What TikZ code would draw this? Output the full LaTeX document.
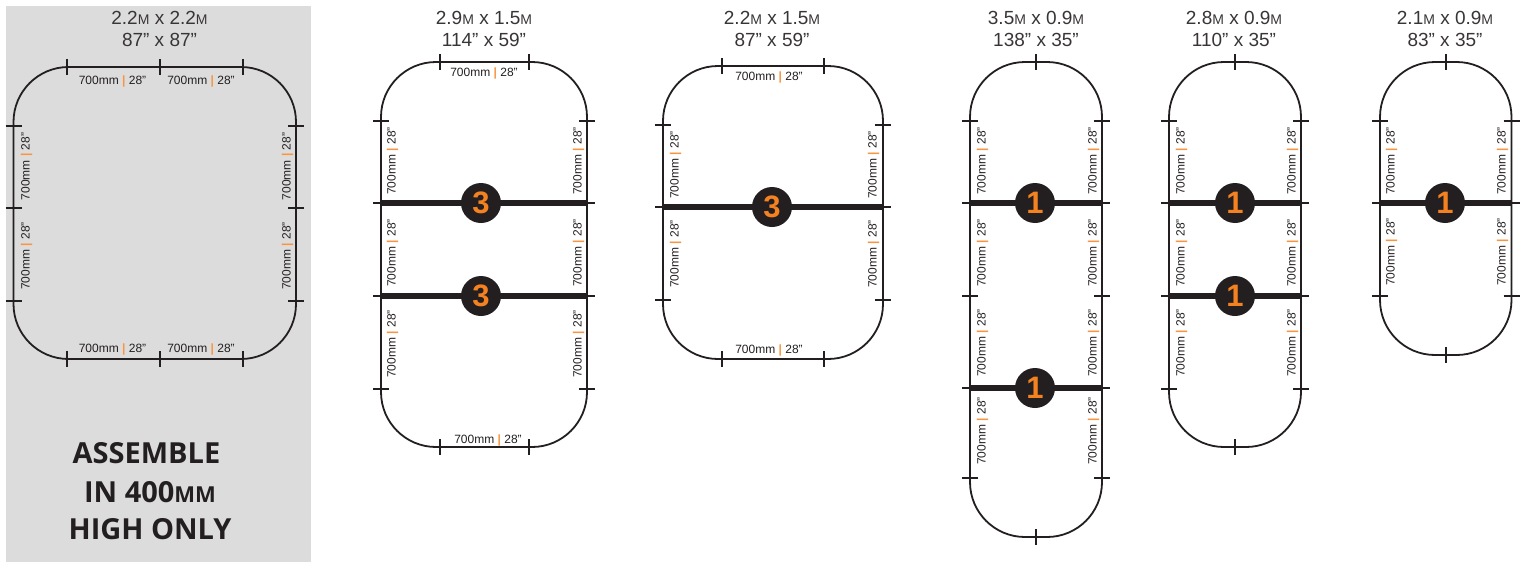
\documentclass[tikz,border=0pt]{standalone}
\usepackage{fontspec}
\setmainfont{Liberation Sans}
\newfontfamily\headfont{Open Sans}
\definecolor{panelgray}{HTML}{DCDCDC}
\definecolor{inkblack}{HTML}{231F20}
\definecolor{markorange}{HTML}{F58220}
\tikzset{
  track/.style={line width=1.8pt,inkblack,rounded corners=55},
  tick/.style={line width=1.6pt,inkblack},
  joinbar/.style={line width=5.4pt,inkblack},
  dimtext/.style={font=\fontsize{12}{14}\selectfont,text=inkblack,inner sep=0pt},
  sizetext/.style={font=\fontsize{19}{21}\selectfont,text=inkblack!90,inner sep=0pt},
  counter/.style={circle,fill=inkblack,minimum size=40pt,inner sep=0pt,text=markorange,font=\fontsize{31}{31}\selectfont\bfseries},
  notetext/.style={font=\headfont\fontsize{29}{30}\selectfont\bfseries,text=inkblack,inner sep=0pt},
}
\begin{document}
\begin{tikzpicture}[x=1pt,y=-1pt]
\def\dimlabel{700mm \textcolor{markorange!85}{\bfseries |} 28"}
\def\hdim#1#2#3{ % #1 Name, #2 x, #3 y
\node[dimtext] (#1) at (#2,#3+1.5) {\dimlabel};
}
\def\vdim#1#2#3{ % #1 Name, #2 x, #3 y
\node[dimtext,rotate=90] (#1) at (#2+1.5,#3) {\dimlabel};
}
\def\htick#1#2{ % #1 x, #2 y
\draw[tick] (#1-8,#2) -- (#1+8,#2);
}
\def\vtick#1#2{ % #1 x, #2 y
\draw[tick] (#1,#2-8) -- (#1,#2+8);
}
\def\sizes#1#2#3#4{ % #1 Name, #2 x, #3 metric, #4 imperial
\node[sizetext] (#1m) at (#2,18) {#3};
\node[sizetext] (#1i) at (#2,40) {#4};
}
\def\mm{{\fontsize{14}{16}\selectfont M}}

\useasboundingbox (0,0) rectangle (1528,562);
\fill[panelgray] (6,6) rectangle (311,562);

%sizes on top of the layouts

\sizes{a}{159.5}{2.2\mm{} x 2.2\mm}{87” x 87”}
\sizes{b}{484}{2.9\mm{} x 1.5\mm}{114” x 59”}
\sizes{c}{772}{2.2\mm{} x 1.5\mm}{87” x 59”}
\sizes{d}{1036}{3.5\mm{} x 0.9\mm}{138” x 35”}
\sizes{e}{1234}{2.8\mm{} x 0.9\mm}{110” x 35”}
\sizes{f}{1445}{2.1\mm{} x 0.9\mm}{83” x 35”}

%outlines of the layouts

\draw[track] (13.5,67) rectangle (296,359);
\draw[track] (381,62) rectangle (587,447);
\draw[track] (663,66) rectangle (883,359);
\draw[track] (970,62) rectangle (1102,537);
\draw[track] (1169,62) rectangle (1301,447);
\draw[track] (1380,62) rectangle (1511.5,355);

%joining bars

\draw[joinbar] (381,203) -- (587,203);
\draw[joinbar] (381,296) -- (587,296);
\draw[joinbar] (663,207) -- (883,207);
\draw[joinbar] (970,203) -- (1102,203);
\draw[joinbar] (970,388) -- (1102,388);
\draw[joinbar] (1169,203) -- (1301,203);
\draw[joinbar] (1169,296) -- (1301,296);
\draw[joinbar] (1380,203) -- (1511.5,203);

%first layout

\vtick{67}{67} \vtick{160}{67} \vtick{243}{67}
\vtick{67}{359} \vtick{160}{359} \vtick{243}{359}
\htick{13.5}{126} \htick{13.5}{208} \htick{13.5}{301}
\htick{296}{126} \htick{296}{208} \htick{296}{301}
\hdim{a1}{112.5}{80} \hdim{a2}{201}{80}
\hdim{a3}{112.5}{347.5} \hdim{a4}{201}{347.5}
\vdim{a5}{25}{166.5} \vdim{a6}{25}{256}
\vdim{a7}{286}{166.5} \vdim{a8}{286}{256}

%second layout

\vtick{440}{62} \vtick{529}{62}
\vtick{440}{447} \vtick{529}{447}
\htick{381}{121} \htick{381}{203} \htick{381}{296} \htick{381}{389}
\htick{587}{121} \htick{587}{203} \htick{587}{296} \htick{587}{389}
\hdim{b1}{484}{72} \hdim{b2}{488}{439}
\vdim{b3}{391}{161} \vdim{b4}{391}{253} \vdim{b5}{391}{344}
\vdim{b6}{577}{161} \vdim{b7}{577}{253} \vdim{b8}{577}{344}
\node[counter] (b9) at (481,203) {3};
\node[counter] (b10) at (481,296) {3};

%third layout

\vtick{722}{66} \vtick{824}{66}
\vtick{722}{359} \vtick{824}{359}
\htick{663}{125} \htick{663}{207} \htick{663}{300}
\htick{883}{125} \htick{883}{207} \htick{883}{300}
\hdim{c1}{769}{76} \hdim{c2}{769}{349}
\vdim{c3}{674}{165} \vdim{c4}{674}{254}
\vdim{c5}{872}{165} \vdim{c6}{872}{254}
\node[counter] (c7) at (772,207) {3};

%fourth layout

\vtick{1036}{62} \vtick{1036}{537}
\htick{970}{121} \htick{970}{203} \htick{970}{296} \htick{970}{388} \htick{970}{478}
\htick{1102}{121} \htick{1102}{203} \htick{1102}{296} \htick{1102}{388} \htick{1102}{478}
\vdim{d1}{981}{161} \vdim{d2}{981}{253} \vdim{d3}{981}{343} \vdim{d4}{981}{431}
\vdim{d5}{1092}{161} \vdim{d6}{1092}{253} \vdim{d7}{1092}{343} \vdim{d8}{1092}{431}
\node[counter] (d9) at (1035,203) {1};
\node[counter] (d10) at (1035,388) {1};

%fifth layout

\vtick{1235}{62} \vtick{1235}{447}
\htick{1169}{121} \htick{1169}{203} \htick{1169}{296} \htick{1169}{389}
\htick{1301}{121} \htick{1301}{203} \htick{1301}{296} \htick{1301}{389}
\vdim{e1}{1180}{161} \vdim{e2}{1180}{253} \vdim{e3}{1180}{343}
\vdim{e4}{1291}{161} \vdim{e5}{1291}{253} \vdim{e6}{1291}{343}
\node[counter] (e7) at (1235,203) {1};
\node[counter] (e8) at (1235,296) {1};

%sixth layout

\vtick{1446}{62} \vtick{1446}{355}
\htick{1380}{121} \htick{1380}{203} \htick{1380}{296}
\htick{1511.5}{121} \htick{1511.5}{203} \htick{1511.5}{296}
\vdim{f1}{1390}{161} \vdim{f2}{1390}{252}
\vdim{f3}{1501}{161} \vdim{f4}{1501}{252}
\node[counter] (f5) at (1445,203) {1};

%note in the panel

\node[notetext] (note1) at (146.5,453) {ASSEMBLE};
\node[notetext] (note2) at (150,492) {IN 400{\fontsize{22}{24}\selectfont MM}};
\node[notetext] (note3) at (150,529) {HIGH ONLY};
\end{tikzpicture}
\end{document}
